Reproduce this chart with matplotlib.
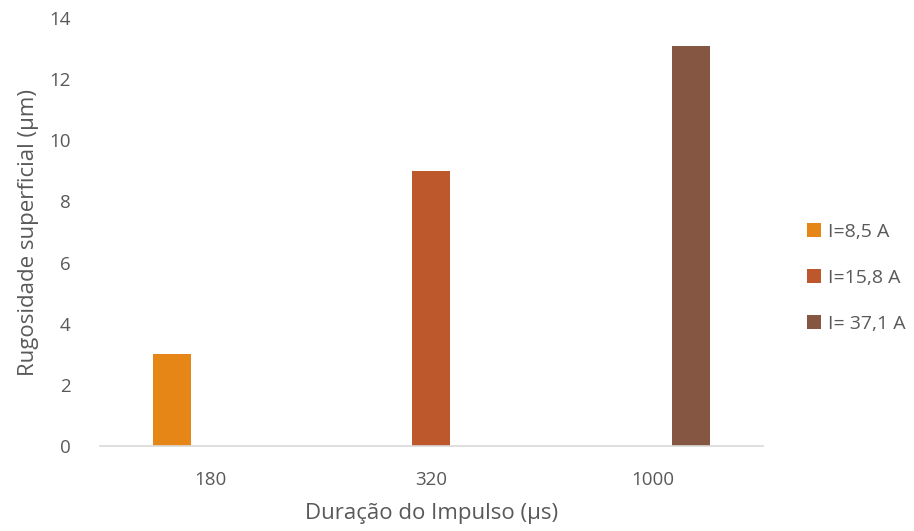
import numpy as np
import matplotlib.pyplot as plt

# Dados
duracoes = ['180', '320', '1000']
series = ['I=8,5 A', 'I=15,8 A', 'I= 37,1 A']
rug_85 = [3.0, 0, 0]
rug_158 = [0, 9.0, 0]
rug_371 = [0, 0, 13.1]
cores = ['#E58616', '#BD582C', '#855642']

plt.rcParams['font.family'] = ['Open Sans', 'DejaVu Sans']
texto = '#595959'

fig = plt.figure(figsize=(9.14, 5.31), dpi=100)
ax = fig.add_axes([0.109, 0.160, 0.726, 0.806])

x = np.arange(len(duracoes))
w = 0.172
for i, (vals, nome) in enumerate(zip([rug_85, rug_158, rug_371], series)):
    ax.bar(x + (i - 1) * w, vals, w, color=cores[i], label=nome)

ax.set_xlim(-0.5, 2.5)
ax.set_ylim(0, 14)
ax.set_yticks(np.arange(0, 15, 2))
ax.set_xticks(x)
ax.set_xticklabels(duracoes)
ax.tick_params(length=0, labelsize=13.5, colors=texto)
ax.tick_params(axis='y', pad=21)
ax.tick_params(axis='x', pad=18)

for s in ['top', 'right', 'left']:
    ax.spines[s].set_visible(False)
ax.spines['bottom'].set_color('#D9D9D9')
ax.spines['bottom'].set_linewidth(1.2)

ax.set_xlabel('Duração do Impulso (µs)', fontsize=16, color=texto, labelpad=10)
ax.set_ylabel('Rugosidade superficial (µm)', fontsize=16, color=texto, labelpad=7)

leg = ax.legend(loc='center left', bbox_to_anchor=(1.04, 0.393), frameon=False,
                fontsize=14, labelcolor=texto, handlelength=0.7, handleheight=0.7,
                handletextpad=0.35, labelspacing=1.45)

fig.savefig('out.png', dpi=100)
